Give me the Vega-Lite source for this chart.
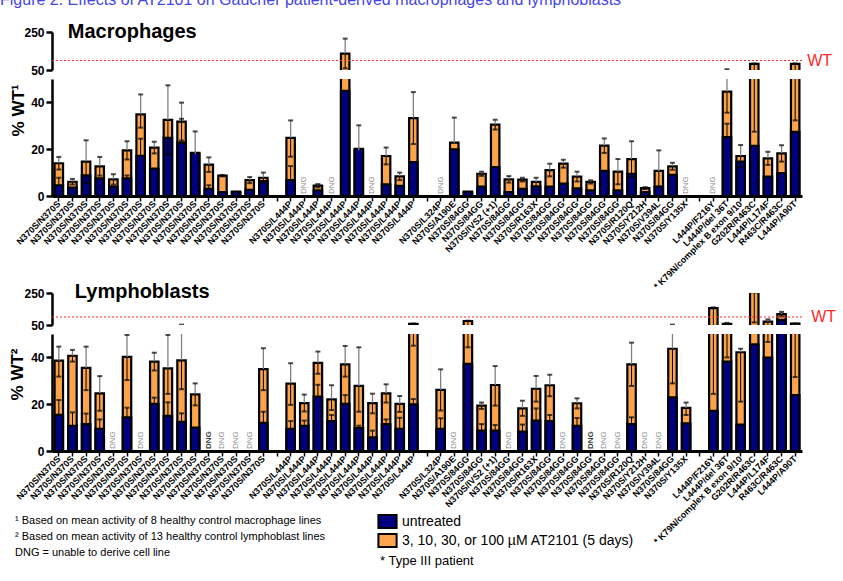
{
"$schema": "https://vega.github.io/schema/vega-lite/v6.json",
"background": "white",
"padding": {"left": 0, "top": -8, "right": 5, "bottom": 5},
"title": {"text": "Figure 2. Effects of AT2101 on Gaucher patient-derived macrophages and lymphoblasts", "anchor": "start", "frame": "group", "dx": -52, "fontSize": 16, "fontWeight": "normal", "font": "Liberation Sans", "color": "#4646E6", "baseline": "bottom", "offset": -2},
"bounds": "flush",
"spacing": 9,
"config": {
  "view": {"stroke": null},
  "font": "Liberation Sans",
  "axis": {"grid": false, "domainColor": "black", "tickColor": "black", "labelColor": "black", "titleColor": "black"}
},
"resolve": {"scale": {"x": "independent", "y": "independent"}},
"datasets": {
"mac": [
{"i":0,"t":14.0,"u":4.6,"thi":16.7,"tlo":11.3,"uhi":7.8},
{"i":1,"t":6.1,"u":3.6,"thi":7.3,"tlo":4.9},
{"i":2,"t":14.7,"u":8.8,"thi":23.8,"tlo":5.6},
{"i":3,"t":12.7,"u":7.5,"thi":16.7,"tlo":8.7},
{"i":4,"t":7.1,"u":4.0,"thi":9.3,"tlo":4.9},
{"i":5,"t":19.5,"u":7.5,"thi":23.4,"tlo":15.6,"uhi":8.8},
{"i":6,"t":34.9,"u":17.2,"thi":43.4,"tlo":29.2,"uhi":24.5},
{"i":7,"t":20.7,"u":11.7,"thi":23.2,"tlo":18.2},
{"i":8,"t":32.5,"u":24.9,"thi":47.3,"tlo":17.7},
{"i":9,"t":31.8,"u":22.8,"thi":39.9,"tlo":23.7,"uhi":33.0},
{"i":10,"t":18.0,"u":18.4,"thi":27.6},
{"i":11,"t":13.4,"u":3.1,"thi":16.5,"tlo":10.3,"uhi":4.6},
{"i":12,"t":8.7,"u":1.7,"thi":9.0,"tlo":8.4},
{"i":13,"t":1.5,"u":1.9},
{"i":14,"t":6.8,"u":2.6,"thi":8.1,"tlo":5.5},
{"i":15,"t":7.8,"u":6.4,"thi":10.0,"tlo":5.6},
{"i":17,"t":24.8,"u":6.8,"thi":32.3,"tlo":16.8,"uhi":12.8},
{"i":18,"d":1},
{"i":19,"t":4.4,"u":2.4,"thi":5.1,"tlo":3.7},
{"i":20,"d":1},
{"i":21,"t":136,"u":44.9,"thi":215,"tlo":59},
{"i":22,"t":19.5,"u":20.2,"thi":30.2},
{"i":23,"d":1},
{"i":24,"t":17.1,"u":5.0,"thi":20.7,"tlo":13.5},
{"i":25,"t":8.4,"u":4.3,"thi":10.0,"tlo":6.8},
{"i":26,"t":33.3,"u":14.5,"thi":44.4,"tlo":22.2},
{"i":28,"d":1},
{"i":29,"t":22.8,"u":19.9,"thi":33.5},
{"i":30,"t":1.5,"u":1.9},
{"i":31,"t":9.5,"u":4.0,"thi":10.4,"tlo":8.6},
{"i":32,"t":30.5,"u":12.4,"thi":32.6,"tlo":28.4},
{"i":33,"t":7.1,"u":1.7,"thi":8.5,"tlo":5.7},
{"i":34,"t":7.0,"u":3.1,"thi":7.8,"tlo":6.2},
{"i":35,"t":6.0,"u":4.0,"thi":7.8,"tlo":4.2},
{"i":36,"t":11.1,"u":4.0,"thi":13.8,"tlo":8.4},
{"i":37,"t":13.8,"u":5.3,"thi":15.5,"tlo":12.1},
{"i":38,"t":8.3,"u":3.3,"thi":10.4,"tlo":6.2},
{"i":39,"t":6.0,"u":2.4,"thi":6.7,"tlo":5.3},
{"i":40,"t":21.5,"u":10.7,"thi":24.6,"tlo":18.4},
{"i":41,"t":10.4,"u":2.4,"thi":15.8,"tlo":5.0},
{"i":42,"t":15.8,"u":9.5,"thi":23.4,"tlo":8.2},
{"i":43,"t":3.4,"u":1.7,"thi":3.8,"tlo":3.0},
{"i":44,"t":10.7,"u":4.0,"thi":19.5,"tlo":4.0},
{"i":45,"t":12.7,"u":9.0,"thi":14.2,"tlo":11.2},
{"i":46,"d":1},
{"i":48,"d":1},
{"i":49,"t":44.6,"u":25.2,"thi":54,"tlo":35.6,"uhi":30.9},
{"i":50,"t":17.1,"u":14.7,"thi":21.8,"tlo":12.4},
{"i":51,"t":82,"u":21.4,"thi":84,"tlo":27.5},
{"i":52,"t":16.1,"u":8.3,"thi":18.9,"tlo":13.3},
{"i":53,"t":18.2,"u":9.8,"thi":21.7,"tlo":14.7},
{"i":54,"t":82,"u":27.4,"thi":84,"tlo":32.3}
],
"lym": [
{"i":0,"t":38.6,"u":15.4,"thi":44.6,"tlo":31.8,"uhi":21.8},
{"i":1,"t":40.7,"u":10.8,"thi":43.2,"tlo":38.2,"uhi":16.5},
{"i":2,"t":35.5,"u":11.5,"thi":44.6,"tlo":26.0,"uhi":16.0},
{"i":3,"t":24.6,"u":9.5,"thi":32.0,"tlo":17.2,"uhi":13.5},
{"i":4,"d":1},
{"i":5,"t":40.2,"u":14.4,"thi":49.6,"tlo":30.3,"uhi":18.5},
{"i":6,"d":1},
{"i":7,"t":38.2,"u":20.1,"thi":42.0,"tlo":34.4,"uhi":22.8},
{"i":8,"t":35.3,"u":15.0,"thi":49.6,"tlo":24.4,"uhi":20.8},
{"i":9,"t":38.7,"u":12.5,"thi":52,"tlo":26.4,"uhi":16.1},
{"i":10,"t":24.2,"u":10.0,"thi":28.9,"tlo":19.5},
{"i":11,"d":2},
{"i":12,"d":1},
{"i":13,"d":1},
{"i":14,"d":1},
{"i":15,"t":35.0,"u":12.0,"thi":43.9,"tlo":26.0,"uhi":16.8},
{"i":17,"t":28.8,"u":9.5,"thi":37.5,"tlo":19.7,"uhi":12.8},
{"i":18,"t":20.5,"u":10.8,"thi":24.1,"tlo":16.9,"uhi":13.0},
{"i":19,"t":37.7,"u":23.2,"thi":42.5,"tlo":33.0,"uhi":28.3},
{"i":20,"t":22.1,"u":12.8,"thi":28.1,"tlo":17.5,"uhi":15.4},
{"i":21,"t":37.0,"u":20.1,"thi":44.9,"tlo":31.8,"uhi":23.9},
{"i":22,"t":27.8,"u":9.8,"thi":44.3,"tlo":16.8,"uhi":10.8},
{"i":23,"t":20.5,"u":5.8,"thi":24.5,"tlo":16.1,"uhi":8.7},
{"i":24,"t":24.6,"u":11.5,"thi":28.5,"tlo":20.7,"uhi":13.5},
{"i":25,"t":20.1,"u":9.5,"thi":23.5,"tlo":16.7,"uhi":14.2},
{"i":26,"t":57,"u":19.9,"thi":59,"tlo":45.0,"uhi":22.2},
{"i":28,"t":26.1,"u":9.5,"thi":34.9,"tlo":17.3,"uhi":14.0},
{"i":29,"d":1},
{"i":30,"t":75,"u":37.2,"thi":77,"tlo":44.3},
{"i":31,"t":19.4,"u":8.7,"thi":20.7,"tlo":18.0,"uhi":11.5},
{"i":32,"t":28.2,"u":8.7,"thi":36.3,"tlo":19.4,"uhi":11.1},
{"i":33,"d":1},
{"i":34,"t":18.2,"u":8.3,"thi":21.5,"tlo":15.0,"uhi":11.3},
{"i":35,"t":26.6,"u":13.0,"thi":32.1,"tlo":21.1,"uhi":18.2},
{"i":36,"t":28.1,"u":12.8,"thi":32.6,"tlo":23.4,"uhi":15.4},
{"i":37,"d":1},
{"i":38,"t":20.4,"u":10.8,"thi":22.5,"tlo":18.2,"uhi":14.1},
{"i":39,"d":2},
{"i":40,"d":1},
{"i":41,"d":1},
{"i":42,"t":37.0,"u":11.5,"thi":46.3,"tlo":27.8,"uhi":14.4},
{"i":43,"d":1},
{"i":44,"d":1},
{"i":45,"t":43.7,"u":22.9,"thi":52,"tlo":28.9},
{"i":46,"t":18.4,"u":11.8,"thi":20.7,"tlo":15.4},
{"i":48,"t":155,"u":17.2,"thi":160,"tlo":24.4},
{"i":49,"t":57,"u":38.2,"thi":63,"tlo":40.0},
{"i":50,"t":42.2,"u":11.3,"thi":43.7,"tlo":21.1},
{"i":51,"t":256,"u":45.6,"thi":262,"tlo":66},
{"i":52,"t":71,"u":39.9,"thi":85,"tlo":46.6},
{"i":53,"t":118,"u":82,"thi":132,"tlo":104},
{"i":54,"t":58,"u":23.9,"thi":59,"tlo":31.6}
],
"notes": [
{"n":"¹ Based on mean activity of 8 healthy control macrophage lines"},
{"n":"² Based on mean activity of 13 healthy control lymphoblast lines"},
{"n":"\u00a0\u00a0\u00a0DNG = unable to derive cell line"}
]
},
"vconcat": [
{
 "width": 750, "height": 38,
 "layer": [
  {"data": {"name": "mac"},
   "encoding": {"x": {"field":"i","type":"ordinal","scale":{"domain":[0,1,2,3,4,5,6,7,8,9,10,11,12,13,14,15,16,17,18,19,20,21,22,23,24,25,26,27,28,29,30,31,32,33,34,35,36,37,38,39,40,41,42,43,44,45,46,47,48,49,50,51,52,53,54],"paddingInner":0.38,"paddingOuter":0.19},"axis":null}},
   "layer": [
    {"transform":[{"filter":"datum.t > 50"}],"mark":{"type":"bar","fill":"#FCA44B","stroke":"black","strokeWidth":2.2,"clip":true},
     "encoding":{"y":{"field":"t","type":"quantitative","scale":{"domain":[50,250],"nice":false,"zero":false},"axis":{"values":[50,150,250],"title":null,"labelFontSize":12,"labelFontWeight":"bold","domainWidth":2.5,"tickWidth":2.5,"tickSize":6,"labelPadding":2}},"y2":{"datum":40}}},
    {"transform":[{"filter":"datum.u > 50"}],"mark":{"type":"bar","fill":"#00007F","stroke":"black","strokeWidth":2.2,"clip":true},
     "encoding":{"y":{"field":"u","type":"quantitative"},"y2":{"datum":40}}},
    {"transform":[{"filter":"datum.thi > 50"}],"mark":{"type":"rule","color":"#808080","strokeWidth":1.3,"clip":true},
     "encoding":{"y":{"field":"t","type":"quantitative"},"y2":{"field":"thi"}}},
    {"transform":[{"filter":"datum.thi > 50"}],"mark":{"type":"tick","color":"black","size":5,"thickness":2,"clip":true},
     "encoding":{"y":{"field":"thi","type":"quantitative"}}},
    {"transform":[{"filter":"datum.t > 50 && isValid(datum.tlo)"}],"mark":{"type":"rule","color":"black","strokeWidth":1,"clip":true},
     "encoding":{"y":{"field":"tlo","type":"quantitative"},"y2":{"field":"t"}}},
    {"transform":[{"filter":"datum.tlo > 50"}],"mark":{"type":"tick","color":"black","size":5,"thickness":2,"clip":true},
     "encoding":{"y":{"field":"tlo","type":"quantitative"}}}
   ]},
  {"data":{"values":[{}]},"mark":{"type":"rule","color":"#FF2A2A","strokeWidth":1.2,"strokeDash":[2,2]},"encoding":{"y":{"datum":100,"type":"quantitative"}}},
  {"data":{"values":[{"w":"WT"}]},"mark":{"type":"text","color":"#FF2A2A","fontSize":16,"align":"left","baseline":"middle","dx":12},"encoding":{"x":{"datum":54,"type":"ordinal"},"y":{"datum":100,"type":"quantitative"},"text":{"field":"w"}}},
  {"data":{"values":[{"w":"Macrophages"}]},"mark":{"type":"text","color":"black","fontSize":20,"fontWeight":"bold","align":"left","baseline":"middle","dx":9},"encoding":{"x":{"datum":0,"type":"ordinal"},"y":{"datum":250,"type":"quantitative"},"text":{"field":"w"}}}
 ]
},
{
 "width": 750, "height": 117,
 "data": {"name": "mac"},
 "encoding": {"x": {"field":"i","type":"ordinal","scale":{"domain":[0,1,2,3,4,5,6,7,8,9,10,11,12,13,14,15,16,17,18,19,20,21,22,23,24,25,26,27,28,29,30,31,32,33,34,35,36,37,38,39,40,41,42,43,44,45,46,47,48,49,50,51,52,53,54],"paddingInner":0.38,"paddingOuter":0.19},
   "axis":{"labelExpr":"['N370S/N370S','N370S/N370S','N370S/N370S','N370S/N370S','N370S/N370S','N370S/N370S','N370S/N370S','N370S/N370S','N370S/N370S','N370S/N370S','N370S/N370S','N370S/N370S','N370S/N370S','N370S/N370S','N370S/N370S','N370S/N370S','','N370S/L444P','N370S/L444P','N370S/L444P','N370S/L444P','N370S/L444P','N370S/L444P','N370S/L444P','N370S/L444P','N370S/L444P','N370S/L444P','','N370S/L324P','N370S/A190E','N370S/84GG','N370S/84GG','N370S/IVS2 (+1)','N370S/84GG','N370S/84GG','N370S/R163X','N370S/84GG','N370S/84GG','N370S/84GG','N370S/84GG','N370S/84GG','N370S/84GG','N370S/R120Q','N370S/Y212H','N370S/V394L','N370S/84GG','N370S/Y135X','','L444P/F216Y','L444P/del 36T','* K79N/complex B exon 9/10','G202R/R463C','L444P/L174F','R463C/R463C','L444P/A90T'][datum.value]","labelAngle":-45,"labelAlign":"right","labelBaseline":"middle","labelFontSize":9,"labelFontWeight":"bold","labelLimit":200,"labelOverlap":false,"labelPadding":1,"tickSize":5,"tickWidth":1.5,"domainWidth":3,"title":null}}},
 "layer": [
  {"transform":[{"filter":"isValid(datum.t)"}],"mark":{"type":"bar","fill":"#FCA44B","stroke":"black","strokeWidth":2.2,"clip":true},
   "encoding":{"y":{"field":"t","type":"quantitative","scale":{"domain":[0,50],"nice":false},"axis":{"values":[0,10,20,30,40,50],"title":"% WT¹","titleFontSize":17,"titleFontWeight":"bold","titleAngle":270,"titleAlign":"right","titleBaseline":"middle","titleX":-34,"titleY":5,"labelFontSize":12,"labelFontWeight":"bold","domainWidth":2.5,"tickWidth":2.5,"tickSize":6,"labelPadding":2}}}},
  {"transform":[{"filter":"isValid(datum.u)"}],"mark":{"type":"bar","fill":"#00007F","stroke":"black","strokeWidth":2.2,"clip":true},
   "encoding":{"y":{"field":"u","type":"quantitative"}}},
  {"transform":[{"filter":"isValid(datum.thi)"}],"mark":{"type":"rule","color":"#808080","strokeWidth":1.3,"clip":true},
   "encoding":{"y":{"field":"t","type":"quantitative"},"y2":{"field":"thi"}}},
  {"transform":[{"filter":"isValid(datum.thi)"}],"mark":{"type":"tick","color":"black","size":5,"thickness":2,"clip":true},
   "encoding":{"y":{"field":"thi","type":"quantitative"}}},
  {"transform":[{"filter":"isValid(datum.tlo)"}],"mark":{"type":"rule","color":"black","strokeWidth":1,"clip":true},
   "encoding":{"y":{"field":"tlo","type":"quantitative"},"y2":{"field":"t"}}},
  {"transform":[{"filter":"isValid(datum.tlo)"}],"mark":{"type":"tick","color":"black","size":5,"thickness":2,"clip":true},
   "encoding":{"y":{"field":"tlo","type":"quantitative"}}},
  {"transform":[{"filter":"isValid(datum.uhi)"}],"mark":{"type":"rule","color":"black","strokeWidth":1,"clip":true},
   "encoding":{"y":{"field":"u","type":"quantitative"},"y2":{"field":"uhi"}}},
  {"transform":[{"filter":"isValid(datum.uhi)"}],"mark":{"type":"tick","color":"black","size":5,"thickness":2,"clip":true},
   "encoding":{"y":{"field":"uhi","type":"quantitative"}}},
  {"transform":[{"filter":"datum.d == 1"}],"mark":{"type":"text","angle":270,"align":"left","baseline":"middle","dx":2,"fontSize":8,"color":"#8a8a8a"},
   "encoding":{"y":{"datum":0,"type":"quantitative"},"text":{"value":"DNG"}}}
 ]
},
{
 "width": 750, "height": 79,
 "data": {"values": []},
 "mark": {"type": "rule"},
 "encoding": {}
},
{
 "width": 750, "height": 32,
 "layer": [
  {"data": {"name": "lym"},
   "encoding": {"x": {"field":"i","type":"ordinal","scale":{"domain":[0,1,2,3,4,5,6,7,8,9,10,11,12,13,14,15,16,17,18,19,20,21,22,23,24,25,26,27,28,29,30,31,32,33,34,35,36,37,38,39,40,41,42,43,44,45,46,47,48,49,50,51,52,53,54],"paddingInner":0.38,"paddingOuter":0.19},"axis":null}},
   "layer": [
    {"transform":[{"filter":"datum.t > 50"}],"mark":{"type":"bar","fill":"#FCA44B","stroke":"black","strokeWidth":2.2,"clip":true},
     "encoding":{"y":{"field":"t","type":"quantitative","scale":{"domain":[50,250],"nice":false,"zero":false},"axis":{"values":[50,150,250],"title":null,"labelFontSize":12,"labelFontWeight":"bold","domainWidth":2.5,"tickWidth":2.5,"tickSize":6,"labelPadding":2}},"y2":{"datum":40}}},
    {"transform":[{"filter":"datum.u > 50"}],"mark":{"type":"bar","fill":"#00007F","stroke":"black","strokeWidth":2.2,"clip":true},
     "encoding":{"y":{"field":"u","type":"quantitative"},"y2":{"datum":40}}},
    {"transform":[{"filter":"datum.thi > 50"}],"mark":{"type":"rule","color":"#808080","strokeWidth":1.3,"clip":true},
     "encoding":{"y":{"field":"t","type":"quantitative"},"y2":{"field":"thi"}}},
    {"transform":[{"filter":"datum.thi > 50"}],"mark":{"type":"tick","color":"black","size":5,"thickness":2,"clip":true},
     "encoding":{"y":{"field":"thi","type":"quantitative"}}},
    {"transform":[{"filter":"datum.t > 50 && isValid(datum.tlo)"}],"mark":{"type":"rule","color":"black","strokeWidth":1,"clip":true},
     "encoding":{"y":{"field":"tlo","type":"quantitative"},"y2":{"field":"t"}}},
    {"transform":[{"filter":"datum.tlo > 50"}],"mark":{"type":"tick","color":"black","size":5,"thickness":2,"clip":true},
     "encoding":{"y":{"field":"tlo","type":"quantitative"}}}
   ]},
  {"data":{"values":[{}]},"mark":{"type":"rule","color":"#FF2A2A","strokeWidth":1.2,"strokeDash":[2,2]},"encoding":{"y":{"datum":100,"type":"quantitative"}}},
  {"data":{"values":[{"w":"WT"}]},"mark":{"type":"text","color":"#FF2A2A","fontSize":16,"align":"left","baseline":"middle","dx":16},"encoding":{"x":{"datum":54,"type":"ordinal"},"y":{"datum":100,"type":"quantitative"},"text":{"field":"w"}}},
  {"data":{"values":[{"w":"Lymphoblasts"}]},"mark":{"type":"text","color":"black","fontSize":20,"fontWeight":"bold","align":"left","baseline":"middle","dx":16,"dy":-1},"encoding":{"x":{"datum":0,"type":"ordinal"},"y":{"datum":250,"type":"quantitative"},"text":{"field":"w"}}}
 ]
},
{
 "width": 750, "height": 117,
 "layer": [
  {"data": {"name": "lym"},
   "encoding": {"x": {"field":"i","type":"ordinal","scale":{"domain":[0,1,2,3,4,5,6,7,8,9,10,11,12,13,14,15,16,17,18,19,20,21,22,23,24,25,26,27,28,29,30,31,32,33,34,35,36,37,38,39,40,41,42,43,44,45,46,47,48,49,50,51,52,53,54],"paddingInner":0.38,"paddingOuter":0.19},
     "axis":{"labelExpr":"['N370S/N370S','N370S/N370S','N370S/N370S','N370S/N370S','N370S/N370S','N370S/N370S','N370S/N370S','N370S/N370S','N370S/N370S','N370S/N370S','N370S/N370S','N370S/N370S','N370S/N370S','N370S/N370S','N370S/N370S','N370S/N370S','','N370S/L444P','N370S/L444P','N370S/L444P','N370S/L444P','N370S/L444P','N370S/L444P','N370S/L444P','N370S/L444P','N370S/L444P','N370S/L444P','','N370S/L324P','N370S/A190E','N370S/84GG','N370S/84GG','N370S/IVS2 (+1)','N370S/84GG','N370S/84GG','N370S/R163X','N370S/84GG','N370S/84GG','N370S/84GG','N370S/84GG','N370S/84GG','N370S/84GG','N370S/R120Q','N370S/Y212H','N370S/V394L','N370S/84GG','N370S/Y135X','','L444P/F216Y','L444P/del 36T','* K79N/complex B exon 9/10','G202R/R463C','L444P/L174F','R463C/R463C','L444P/A90T'][datum.value]","labelAngle":-45,"labelAlign":"right","labelBaseline":"middle","labelFontSize":9,"labelFontWeight":"bold","labelLimit":200,"labelOverlap":false,"labelPadding":1,"tickSize":5,"tickWidth":1.5,"domainWidth":3,"title":null}}},
   "layer": [
    {"transform":[{"filter":"isValid(datum.t)"}],"mark":{"type":"bar","stroke":"black","strokeWidth":2.2,"clip":true},
     "encoding":{"y":{"field":"t","type":"quantitative","scale":{"domain":[0,50],"nice":false},"axis":{"values":[0,10,20,30,40,50],"title":"% WT²","titleFontSize":17,"titleFontWeight":"bold","titleAngle":270,"titleAlign":"right","titleBaseline":"middle","titleX":-35,"titleY":14,"labelFontSize":12,"labelFontWeight":"bold","domainWidth":2.5,"tickWidth":2.5,"tickSize":6,"labelPadding":2}},
      "color":{"datum":"3, 10, 30, or 100 µM AT2101 (5 days)","scale":{"domain":["untreated","3, 10, 30, or 100 µM AT2101 (5 days)"],"range":["#00007F","#FCA44B"]},
       "legend":{"orient":"none","legendX":328,"legendY":482,"title":"\u00a0\u00a0* Type III patient","titleOrient":"bottom","titleFontWeight":"normal","titleFontSize":13,"titleFont":"Liberation Sans","titlePadding":4,"labelFont":"Liberation Sans","labelFontSize":14,"labelLimit":400,"symbolType":"M-1.4,-1H1.4V1H-1.4Z","symbolSize":169,"symbolStrokeColor":"black","symbolStrokeWidth":2,"symbolOpacity":1,"rowPadding":-2,"labelOffset":7,"padding":0}}}},
    {"transform":[{"filter":"isValid(datum.u)"}],"mark":{"type":"bar","stroke":"black","strokeWidth":2.2,"clip":true},
     "encoding":{"y":{"field":"u","type":"quantitative"},"color":{"datum":"untreated"}}},
    {"transform":[{"filter":"isValid(datum.thi)"}],"mark":{"type":"rule","color":"#808080","strokeWidth":1.3,"clip":true},
     "encoding":{"y":{"field":"t","type":"quantitative"},"y2":{"field":"thi"}}},
    {"transform":[{"filter":"isValid(datum.thi)"}],"mark":{"type":"tick","color":"black","size":5,"thickness":2,"clip":true},
     "encoding":{"y":{"field":"thi","type":"quantitative"}}},
    {"transform":[{"filter":"isValid(datum.tlo)"}],"mark":{"type":"rule","color":"black","strokeWidth":1,"clip":true},
     "encoding":{"y":{"field":"tlo","type":"quantitative"},"y2":{"field":"t"}}},
    {"transform":[{"filter":"isValid(datum.tlo)"}],"mark":{"type":"tick","color":"black","size":5,"thickness":2,"clip":true},
     "encoding":{"y":{"field":"tlo","type":"quantitative"}}},
    {"transform":[{"filter":"isValid(datum.uhi)"}],"mark":{"type":"rule","color":"black","strokeWidth":1,"clip":true},
     "encoding":{"y":{"field":"u","type":"quantitative"},"y2":{"field":"uhi"}}},
    {"transform":[{"filter":"isValid(datum.uhi)"}],"mark":{"type":"tick","color":"black","size":5,"thickness":2,"clip":true},
     "encoding":{"y":{"field":"uhi","type":"quantitative"}}},
    {"transform":[{"filter":"datum.d == 1"}],"mark":{"type":"text","angle":270,"align":"left","baseline":"middle","dx":2,"fontSize":8,"color":"#8a8a8a"},
     "encoding":{"y":{"datum":0,"type":"quantitative"},"text":{"value":"DNG"}}},
    {"transform":[{"filter":"datum.d == 2"}],"mark":{"type":"text","angle":270,"align":"left","baseline":"middle","dx":2,"fontSize":8,"fontWeight":"bold","color":"#444444"},
     "encoding":{"y":{"datum":0,"type":"quantitative"},"text":{"value":"DNG"}}}
   ]},
  {"data":{"name":"notes"},"mark":{"type":"point","opacity":0},
   "encoding":{"shape":{"field":"n","type":"nominal","scale":{"domain":["¹ Based on mean activity of 8 healthy control macrophage lines","² Based on mean activity of 13 healthy control lymphoblast lines","\u00a0\u00a0\u00a0DNG = unable to derive cell line"],"range":["square","square","square"]},
     "legend":{"orient":"none","legendX":-48,"legendY":483,"title":null,"symbolSize":0,"symbolOpacity":0,"symbolStrokeWidth":0,"labelOffset":0,"labelFont":"Liberation Sans","labelFontSize":11,"labelColor":"black","rowPadding":4,"labelLimit":500,"padding":0}}}}
 ]
}
]
}
